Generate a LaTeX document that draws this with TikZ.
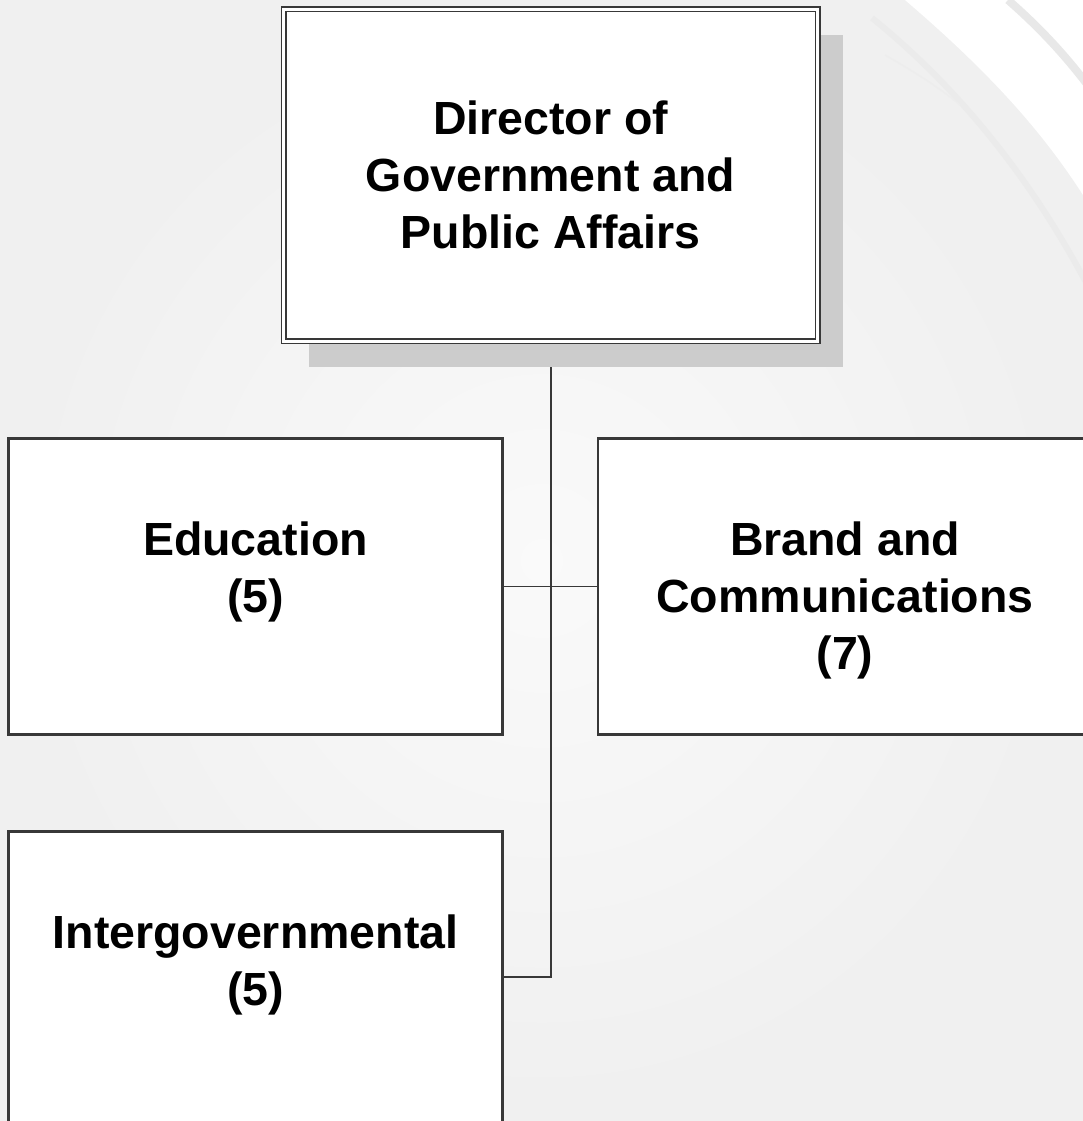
\documentclass[tikz,border=0pt]{standalone}
\usepackage{fontspec}
\setmainfont{Liberation Sans}
\usetikzlibrary{shadows}
\newcommand{\orgtext}[4]{\parbox[c][#1][t]{#2}{\centering\vspace*{#3}#4}}
\begin{document}
\begin{tikzpicture}[x=1pt, y=-1pt,
    unit/.style={draw=black!78, line width=2.2pt, fill=white, inner sep=0pt,
        font=\fontsize{46.5}{57}\selectfont\bfseries},
    head/.style={unit, line width=1.5pt, double=white, double distance=2.8pt,
        drop shadow={shadow xshift=25pt, shadow yshift=-26pt, fill=black!20, opacity=1}},
    wire/.style={draw=black!78, line width=1.8pt}]
    \useasboundingbox (0,0) rectangle (1083,1121);
    \shade[inner color=black!2, outer color=black!6] (0,0) rectangle (1083,1121);

    \fill[white] (905,0) .. controls (975,60) and (1035,120) .. (1083,195) -- (1083,0) -- cycle;
    \draw[line width=8pt, black!9] (1008,0) .. controls (1040,28) and (1065,55) .. (1090,88);
    \draw[line width=6pt, black!8] (872,18) .. controls (955,85) and (1030,175) .. (1090,290);
    \draw[line width=1.5pt, black!7] (885,55) .. controls (920,75) and (945,92) .. (960,105);

    \draw[wire] (550.6,341) -- (550.6,977) -- (503,977);
    \draw[wire] (503,586.5) -- (599,586.5);

    \node[head] (dir) at (550.6,175.2) {\orgtext{332pt}{534pt}{92pt}{Director of\\Government and\\Public Affairs}};
    \node[unit] (edu) at (255.5,586.5) {\orgtext{296pt}{494pt}{83pt}{Education\\(5)}};
    \node[unit] (brand) at (845,586.5) {\orgtext{296pt}{494pt}{83pt}{Brand and\\Communications\\(7)}};
    \node[unit] (inter) at (255.5,979.5) {\orgtext{296pt}{494pt}{83pt}{Intergovernmental\\(5)}};
\end{tikzpicture}
\end{document}
